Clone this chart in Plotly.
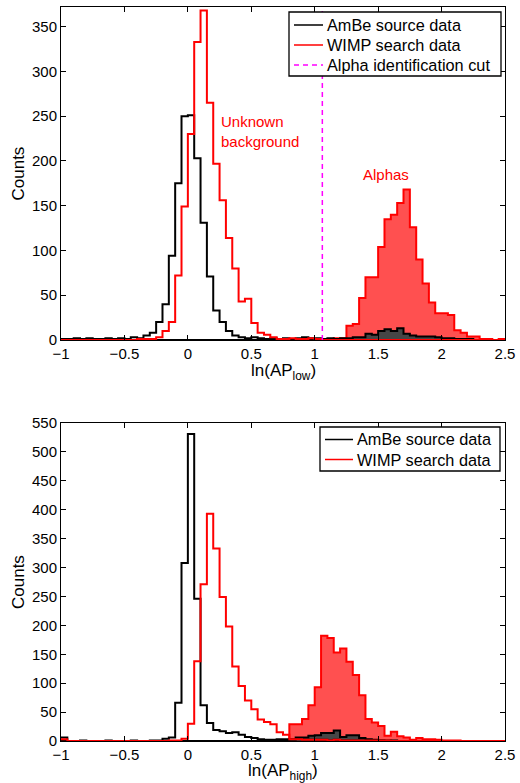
import numpy as np
import plotly.graph_objects as go

# ---------------- data (counts per bin of width 0.05, from -1 to 2.5) ----------------
BIN_LO, BIN_HI, NBINS = -1.0, 2.5, 70
EDGES = np.linspace(BIN_LO, BIN_HI, NBINS + 1)

CUT = 1.06  # alpha identification cut in ln(AP_low)

# Top panel: ln(AP_low)
top_ambe_main = [1, 1, 2, 1, 2, 1, 1, 2, 1, 2, 1, 3, 2, 5, 8, 20, 40, 94, 175, 250,
                 251, 203, 131, 71, 33, 20, 10, 5, 3, 2, 3, 2, 1, 2, 1, 2, 1, 2, 3, 2,
                 2, 0, 0, 0, 0, 0, 0, 0, 0, 0, 0, 0, 0, 0, 0, 0, 0, 0, 0, 0,
                 0, 0, 0, 0, 0, 0, 0, 0, 0, 0]
top_ambe_alpha = [0] * 41 + [1, 2, 1, 2, 2, 3, 3, 7, 6, 10, 12, 10, 13, 7, 5, 4, 4, 4, 3,
                             2, 2, 1, 1, 1, 0, 0, 0, 0, 0]
top_wimp_main = [0, 0, 0, 0, 0, 0, 0, 0, 0, 0, 0, 0, 1, 1, 1, 3, 10, 20, 72, 149,
                 230, 333, 368, 265, 197, 156, 114, 80, 43, 46, 19, 8, 6, 3, 1, 1, 2, 1, 1, 2,
                 1, 0, 0, 0, 0, 0, 0, 0, 0, 0, 0, 0, 0, 0, 0, 0, 0, 0, 0, 0,
                 0, 0, 0, 0, 0, 0, 0, 0, 0, 0]
top_wimp_alpha = [0] * 41 + [1, 1, 2, 2, 16, 18, 47, 70, 70, 104, 135, 140, 153, 168, 126,
                             90, 63, 42, 30, 30, 28, 11, 8, 4, 4, 1, 1, 0, 1]

# Bottom panel: ln(AP_high)
bot_ambe_main = [6, 0, 0, 1, 0, 0, 0, 1, 0, 0, 0, 1, 0, 0, 1, 1, 4, 6, 66, 308,
                 531, 246, 62, 31, 19, 17, 14, 15, 11, 7, 5, 3, 2, 2, 3, 3, 2, 3, 2, 2,
                 2, 2, 1, 2, 1, 1, 1, 1, 1, 1, 1, 0, 1, 0, 0, 0, 0, 0, 0, 0,
                 0, 0, 0, 0, 0, 0, 0, 0, 0, 0]
bot_ambe_alpha = [0] * 36 + [3, 6, 6, 9, 10, 14, 14, 18, 7, 10, 10, 5, 3, 2, 1, 1,
                             0, 0, 0, 0, 0, 0, 0, 0, 0, 0, 0, 0, 0, 0, 0, 0, 0, 0]
bot_wimp_main = [3, 0, 0, 0, 0, 0, 0, 0, 0, 0, 0, 0, 0, 0, 0, 0, 0, 1, 1, 4,
                 30, 138, 271, 393, 333, 249, 198, 129, 95, 70, 55, 37, 33, 29, 15, 11, 3, 3, 2, 2,
                 2, 2, 1, 2, 1, 1, 1, 1, 1, 1, 1, 1, 0, 0, 0, 0, 0, 0, 0, 0,
                 0, 0, 0, 0, 0, 0, 0, 0, 0, 0]
bot_wimp_alpha = [0] * 36 + [29, 29, 38, 62, 93, 182, 178, 153, 160, 137, 114, 79, 38, 32,
                             26, 9, 16, 8, 6, 2, 5, 3, 3, 2, 1, 1, 1, 0, 0, 0, 0, 0, 0, 0]

TOP_YMAX, BOT_YMAX = 372, 550
X_TICKS = [-1, -0.5, 0, 0.5, 1, 1.5, 2, 2.5]
X_TICKTEXT = ["\u22121", "\u22120.5", "0", "0.5", "1", "1.5", "2", "2.5"]

TOP_LEGEND = ["AmBe source data", "WIMP search data", "Alpha identification cut"]
BOT_LEGEND = ["AmBe source data", "WIMP search data"]

# ---------------- styling ----------------
RED = "#ff0000"
RED_FILL = "#ff5050"
DARK_FILL = "#464646"
MAGENTA = "#ff00ff"
FONT = "Liberation Sans, Arial, Helvetica, sans-serif"
W, H = 520, 783

fig = go.Figure()


def step_trace(counts, color, xa, ya, width=2.0, fill=None, fillcolor=None, name=None):
    y = list(counts) + [counts[-1]]
    return go.Scatter(
        x=EDGES, y=y, mode="lines", line=dict(shape="hv", color=color, width=width),
        fill=fill, fillcolor=fillcolor, xaxis=xa, yaxis=ya, name=name,
        showlegend=False, hoverinfo="skip")


# top panel
fig.add_trace(step_trace(top_wimp_alpha, RED, "x", "y", fill="tozeroy", fillcolor=RED_FILL))
fig.add_trace(step_trace(top_ambe_alpha, "#000000", "x", "y", fill="tozeroy", fillcolor=DARK_FILL))
fig.add_trace(step_trace(top_ambe_main, "#000000", "x", "y", name=TOP_LEGEND[0]))
fig.add_trace(step_trace(top_wimp_main, RED, "x", "y", name=TOP_LEGEND[1]))
fig.add_trace(go.Scatter(x=[CUT, CUT], y=[0, TOP_YMAX], mode="lines",
                         line=dict(color=MAGENTA, width=1.5, dash="5px,4px"),
                         name=TOP_LEGEND[2], xaxis="x", yaxis="y",
                         showlegend=False, hoverinfo="skip"))

# bottom panel
fig.add_trace(step_trace(bot_wimp_alpha, RED, "x2", "y2", fill="tozeroy", fillcolor=RED_FILL))
fig.add_trace(step_trace(bot_ambe_alpha, "#000000", "x2", "y2", fill="tozeroy",
                         fillcolor=DARK_FILL))
fig.add_trace(step_trace(bot_ambe_main, "#000000", "x2", "y2", name=BOT_LEGEND[0]))
fig.add_trace(step_trace(bot_wimp_main, RED, "x2", "y2", name=BOT_LEGEND[1]))

# geometry (pixels)
AX_L, AX_R = 61, 505
TOP_T, TOP_B = 7, 340
BOT_T, BOT_B = 423, 741


def px_x(p):
    return p / W


def px_y(p):
    return 1 - p / H


axis_common = dict(showgrid=False, zeroline=False, showline=True, linecolor="#000000",
                   linewidth=1, mirror="allticks", ticks="inside", ticklen=5,
                   tickcolor="#000000", tickwidth=1, automargin=False,
                   tickfont=dict(family=FONT, size=15, color="#000000"))

fig.update_layout(
    width=W, height=H, margin=dict(l=0, r=0, t=0, b=0, autoexpand=False),
    paper_bgcolor="white", plot_bgcolor="white", showlegend=False,
    font=dict(family=FONT, color="#000000"),
    xaxis=dict(domain=[px_x(AX_L), px_x(AX_R)], range=[BIN_LO, BIN_HI], anchor="y",
               tickvals=X_TICKS, ticktext=X_TICKTEXT, **axis_common),
    yaxis=dict(domain=[px_y(TOP_B), px_y(TOP_T)], range=[0, TOP_YMAX], anchor="x",
               tickvals=list(range(0, 351, 50)), **axis_common),
    xaxis2=dict(domain=[px_x(AX_L), px_x(AX_R)], range=[BIN_LO, BIN_HI], anchor="y2",
                tickvals=X_TICKS, ticktext=X_TICKTEXT, **axis_common),
    yaxis2=dict(domain=[px_y(BOT_B), px_y(BOT_T)], range=[0, BOT_YMAX], anchor="x2",
                tickvals=list(range(0, 551, 50)), **axis_common),
)


# ---------------- legends (box + line samples + labels, in paper space) ----------------
def draw_legend(box, entries, line_x0, line_x1, text_x, row_y):
    x0, y0, x1, y1 = box
    fig.add_shape(type="rect", xref="paper", yref="paper", layer="above",
                  x0=px_x(x0), x1=px_x(x1), y0=px_y(y1), y1=px_y(y0),
                  line=dict(color="#000000", width=1.3), fillcolor="white")
    for (label, color, dash), yy in zip(entries, row_y):
        fig.add_shape(type="line", xref="paper", yref="paper", layer="above",
                      x0=px_x(line_x0), x1=px_x(line_x1), y0=px_y(yy), y1=px_y(yy),
                      line=dict(color=color, width=1.5, dash=dash))
        fig.add_annotation(text=label, xref="paper", yref="paper", x=px_x(text_x),
                           y=px_y(yy), xanchor="left", yanchor="middle", showarrow=False,
                           font=dict(family=FONT, size=16.3, color="#000000"), borderpad=0)


draw_legend((289, 12, 501, 76),
            [(TOP_LEGEND[0], "#000000", "solid"), (TOP_LEGEND[1], RED, "solid"),
             (TOP_LEGEND[2], MAGENTA, "5px,4px")],
            294, 323, 326, [25, 45, 65])
draw_legend((320, 427, 500, 471),
            [(BOT_LEGEND[0], "#000000", "solid"), (BOT_LEGEND[1], RED, "solid")],
            325, 353, 356, [439.5, 459.5])

ann_font = dict(family=FONT, size=17, color="#000000")
fig.add_annotation(text="Counts", textangle=-90, xref="paper", yref="paper",
                   x=px_x(18), y=px_y((TOP_T + TOP_B) / 2), xanchor="center",
                   yanchor="middle", showarrow=False, font=ann_font)
fig.add_annotation(text="Counts", textangle=-90, xref="paper", yref="paper",
                   x=px_x(18), y=px_y((BOT_T + BOT_B) / 2), xanchor="center",
                   yanchor="middle", showarrow=False, font=ann_font)
fig.add_annotation(text="ln(AP<sub>low</sub>)", xref="paper", yref="paper",
                   x=px_x((AX_L + AX_R) / 2), y=px_y(360), xanchor="center", yanchor="top",
                   showarrow=False, font=ann_font, borderpad=0)
fig.add_annotation(text="ln(AP<sub>high</sub>)", xref="paper", yref="paper",
                   x=px_x((AX_L + AX_R) / 2), y=px_y(760), xanchor="center", yanchor="top",
                   showarrow=False, font=ann_font, borderpad=0)

fig.add_annotation(text="Unknown<br>background", xref="x", yref="y", x=0.245, y=233,
                   xanchor="left", align="left", showarrow=False,
                   font=dict(family=FONT, size=15, color=RED))
fig.add_annotation(text="Alphas", xref="x", yref="y", x=1.56, y=185,
                   showarrow=False, font=dict(family=FONT, size=15, color=RED))

fig.write_html("out.html")
